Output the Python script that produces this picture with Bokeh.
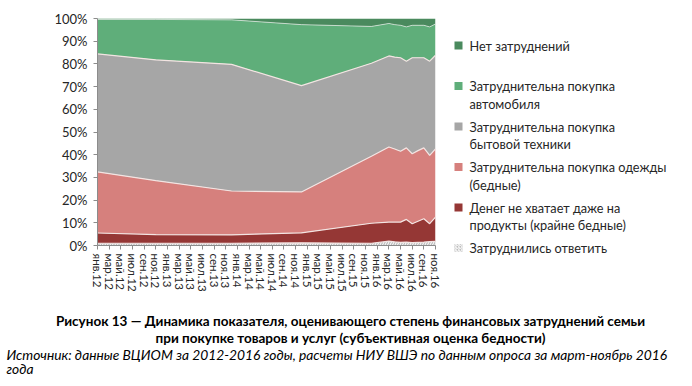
import numpy as np
from bokeh.plotting import figure
from bokeh.models import ColumnDataSource, Range1d, FixedTicker
from bokeh.layouts import column, row
from bokeh.core.properties import value
from bokeh.embed import file_html
from bokeh.resources import INLINE

# ---------------- data ----------------
months_ru = ["янв", "фев", "мар", "апр", "май", "июн", "июл", "авг", "сен", "окт", "ноя", "дек"]

dates = ["янв.12", "ноя.12", "дек.13", "дек.14", "дек.15", "мар.16", "апр.16",
         "май.16", "июн.16", "июл.16", "авг.16", "сен.16", "окт.16", "ноя.16"]

hard_to_say   = [1.0, 1.0, 1.0, 1.2, 1.0, 1.9, 1.6, 1.4, 1.5, 1.3, 1.4, 1.5, 1.7, 1.8]
food          = [4.5, 3.8, 3.7, 4.4, 8.8, 8.4, 8.7, 8.9, 10.0, 8.3, 9.3, 10.3, 7.9, 10.7]
clothes       = [26.9, 23.8, 19.3, 18.0, 29.5, 33.1, 32.2, 31.2, 31.5, 30.8, 31.1, 31.2, 30.1, 30.1]
appliances    = [52.0, 53.2, 55.8, 46.8, 41.0, 40.1, 40.5, 41.2, 38.2, 42.3, 40.9, 39.7, 41.5, 41.2]
car           = [15.2, 17.8, 19.6, 26.9, 16.2, 14.3, 14.3, 14.3, 15.1, 14.3, 14.3, 14.3, 15.1, 13.8]
no_difficulty = [0.4, 0.4, 0.6, 2.7, 3.5, 2.2, 2.7, 3.0, 3.7, 3.0, 3.0, 3.0, 3.7, 2.4]

tick_labels = ["янв.12", "мар.12", "май.12", "июл.12", "сен.12", "ноя.12",
               "янв.13", "мар.13", "май.13", "июл.13", "сен.13", "ноя.13",
               "янв.14", "мар.14", "май.14", "июл.14", "сен.14", "ноя.14",
               "янв.15", "мар.15", "май.15", "июл.15", "сен.15", "ноя.15",
               "янв.16", "мар.16", "май.16", "июл.16", "сен.16", "ноя.16"]

y_ticks = [0, 10, 20, 30, 40, 50, 60, 70, 80, 90, 100]

# stacking order bottom -> top
series_values = [hard_to_say, food, clothes, appliances, car, no_difficulty]
series_colors = ["#bdbdbd", "#953735", "#d6807d", "#a6a6a6", "#5fae7a", "#4a8a5e"]

# legend order top -> bottom
legend_entries = [
    (["Нет затруднений"], 5),
    (["Затруднительна покупка", "автомобиля"], 4),
    (["Затруднительна покупка", "бытовой техники"], 3),
    (["Затруднительна покупка одежды", "(бедные)"], 2),
    (["Денег не хватает даже на", "продукты (крайне бедные)"], 1),
    (["Затруднились ответить"], 0),
]

caption_bold = ["Рисунок 13 — Динамика показателя, оценивающего степень финансовых затруднений семьи",
                "при покупке товаров и услуг (субъективная оценка бедности)"]
caption_italic = ["Источник: данные ВЦИОМ за 2012-2016 годы, расчеты НИУ ВШЭ по данным опроса за март-ноябрь 2016",
                  "года"]


def month_index(label):
    mon, yy = label.split(".")
    return (int(yy) - 12) * 12 + months_ru.index(mon)


x = np.array([month_index(d) for d in dates], dtype=float)
tick_pos = [month_index(t) for t in tick_labels]

FONT = value("Lato")
TXT = "#262626"

# ---------------- main chart ----------------
p = figure(width=451, height=295, x_range=Range1d(0, 58), y_range=Range1d(0, 100),
           output_backend="svg", toolbar_location=None,
           min_border_left=97, min_border_right=16, min_border_top=18, min_border_bottom=50)
p.outline_line_color = None
p.xgrid.visible = False
p.ygrid.visible = False

cum = np.zeros(len(x))
tops = []
for i, vals in enumerate(series_values):
    lo = cum.copy()
    cum = cum + np.array(vals, dtype=float)
    src = ColumnDataSource(dict(x=x, y1=lo, y2=cum.copy()))
    if i == 0:
        p.varea(x="x", y1="y1", y2="y2", source=src, fill_color=series_colors[i],
                hatch_pattern="/", hatch_color="white", hatch_scale=5, hatch_weight=1)
    else:
        p.varea(x="x", y1="y1", y2="y2", source=src, fill_color=series_colors[i])
    tops.append(cum.copy())

for t in tops[:-2]:
    p.line(x=x, y=t, line_color="#f3e4e2", line_width=1.2)
p.line(x=x, y=tops[-2], line_color="#e8f0ea", line_width=1.0, line_alpha=0.7)

p.xaxis.ticker = FixedTicker(ticks=tick_pos)
p.xaxis.major_label_overrides = {t: l for t, l in zip(tick_pos, tick_labels)}
p.xaxis.major_label_orientation = "vertical"
p.xaxis.minor_tick_line_color = None
p.xaxis.major_tick_in = 0
p.xaxis.major_tick_out = 4
p.xaxis.major_label_standoff = 4

p.yaxis.ticker = FixedTicker(ticks=y_ticks)
p.yaxis.major_label_overrides = {v: f"{v}%" for v in y_ticks}
p.yaxis.minor_tick_line_color = None
p.yaxis.major_tick_in = 0
p.yaxis.major_tick_out = 4
p.yaxis.major_label_standoff = 6

for ax in (p.xaxis, p.yaxis):
    ax.axis_line_color = "#8c8c8c"
    ax.major_tick_line_color = "#8c8c8c"
    ax.major_label_text_font = "Lato"
    ax.major_label_text_color = TXT
p.xaxis.major_label_text_font_size = "11.5px"
p.yaxis.major_label_text_font_size = "13px"

# ---------------- legend ----------------
LW, LH = 231, 295
lg = figure(width=LW, height=LH, x_range=Range1d(0, LW), y_range=Range1d(LH, 0),
            output_backend="svg", toolbar_location=None, min_border=0)
lg.axis.visible = False
lg.grid.visible = False
lg.outline_line_color = None

y0, step, line_h = 45, 40.5, 17.5
for k, (lines, si) in enumerate(legend_entries):
    ym = y0 + k * step
    if si == 0:
        lg.rect(x=[7], y=[ym], width=8, height=8, width_units="screen", height_units="screen",
                fill_color=series_colors[si], line_color=None,
                hatch_pattern="/", hatch_color="white", hatch_scale=3, hatch_weight=1)
    else:
        lg.rect(x=[7], y=[ym], width=8, height=8, width_units="screen", height_units="screen",
                fill_color=series_colors[si], line_color=None)
    lg.text(x=[18] * len(lines), y=[ym + j * line_h for j in range(len(lines))], text=lines,
            text_font=FONT, text_font_size="12.7px", text_color=TXT,
            text_baseline="middle", text_align="left")

# ---------------- caption ----------------
CW, CH = 682, 81
cp = figure(width=CW, height=CH, x_range=Range1d(0, CW), y_range=Range1d(CH, 0),
            output_backend="svg", toolbar_location=None, min_border=0)
cp.axis.visible = False
cp.grid.visible = False
cp.outline_line_color = None

cp.text(x=[350] * 2, y=[25, 42], text=caption_bold, text_font=FONT, text_font_style="bold",
        text_font_size="13.5px", text_color="#000000", text_baseline="middle", text_align="center")
cp.text(x=[6, 6], y=[59, 73], text=caption_italic, text_font=FONT, text_font_style="italic",
        text_font_size="13.8px", text_color="#000000", text_baseline="middle", text_align="left")

layout = column(row(p, column(lg)), cp)

with open("out.html", "w") as f:
    f.write(file_html(layout, INLINE))
